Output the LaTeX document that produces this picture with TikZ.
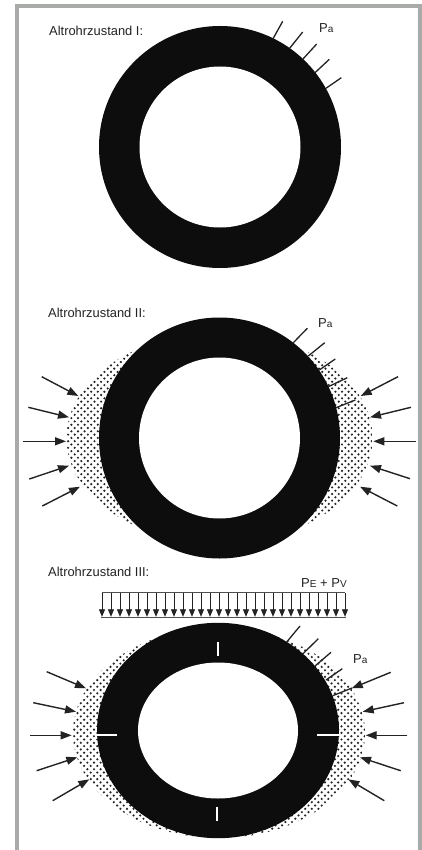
\documentclass[tikz,border=0pt]{standalone}
\usepackage{fontspec}
\setmainfont{Liberation Sans}
\usepackage{xcolor}
\usetikzlibrary{arrows.meta}
\definecolor{frame}{RGB}{168,171,168}
\definecolor{pipe}{RGB}{13,13,13}
\definecolor{ink}{RGB}{35,35,35}
\tikzset{
  border/.style={draw=frame, line width=4pt},
  pipering/.style={fill=pipe},
  bore/.style={fill=white},
  slit/.style={draw=white, line width=2pt},
  grain/.style={fill=ink},
  title/.style={anchor=base west, inner sep=0pt, text=ink, font=\fontsize{12.9}{15}\selectfont},
  pval/.style={anchor=base west, inner sep=0pt, text=ink, font=\fontsize{13}{15}\selectfont},
  pline/.style={draw=ink, line width=1.3pt},
  soil/.style={draw=ink, line width=1.4pt, -{Triangle[length=11pt,width=8pt]}},
  load/.style={draw=ink, line width=0.8pt, -{Triangle[length=7.5pt,width=6pt]}},
  loadedge/.style={draw=ink!80, line width=1pt}
}
\newcommand{\subsm}[1]{{\fontsize{10}{11}\selectfont #1}}
\begin{document}
\begin{tikzpicture}[x=1pt,y=-1pt]
  \useasboundingbox[fill=white] (0,0) rectangle (422,850);
  \draw[border] (17,850) -- (17,6) -- (420,6) -- (420,850);
  % stipple behind the rings
  \foreach \cx/\cy/\rx in {219.5/438/153, 219/733/146}{
    \begin{scope}
      \clip (\cx,\cy) circle [x radius=\rx, y radius=105];
      \foreach \row in {0,...,66}{
        \foreach \col in {0,...,48}{
          \fill[grain] ({\cx-158+\col*6.6+3.3*mod(\row,2)},{\cy-109+\row*3.3}) circle [radius=1.2];
        }
      }
    \end{scope}
  }
  % rings
  \coordinate (ringA) at (220,147);
  \coordinate (ringB) at (219.5,438);
  \coordinate (ringC) at (218,730.5);
  \fill[pipering] (ringA) circle [radius=121];
  \fill[bore] (ringA) circle [radius=80.5];
  \fill[pipering] (ringB) circle [radius=120.5];
  \fill[bore] (ringB) circle [radius=80.5];
  \fill[pipering] (ringC) circle [x radius=121, y radius=107.7];
  \fill[bore] (ringC) circle [x radius=80, y radius=68];
  % cracks
  \draw[slit] (217.7,641.7) -- (217.7,655.7);
  \draw[slit] (217.3,806.7) -- (217.3,821);
  \draw[slit] (97,735.3) -- (117,735.3);
  \draw[slit] (317.3,735.3) -- (339,735.3);
  % water pressure lines
  \foreach \xa/\ya/\xb/\yb in {282.7/21.3/272.7/39.3, 302.7/32/289.3/48.7, 316.7/44/302.7/59.3,
      329.3/59.3/315/72.7, 341.3/77.7/326/88.3,
      307.3/328.3/293.3/342.7, 324.7/342.7/308.3/356, 335.3/359/319.3/370,
      347.3/377.7/328.3/386.7, 355.3/400/336/407.7,
      300/626/286.7/642, 318.3/638.7/302.7/654, 331/652.3/315/666,
      342.3/668.7/326/680, 352/688/332.7/695.7}
    \draw[pline] (\xa,\ya) -- (\xb,\yb);
  % soil pressure arrows
  \foreach \xa/\ya/\xb/\yb in {41.7/376.7/78.3/396, 28.3/407.3/69/417.3, 23.3/441.3/66/441.3,
      29.3/479/69/465.7, 42.3/506/80/486.7,
      398/376.7/360.7/396, 411/407.3/370/417.3, 416/441.3/373.3/441.3,
      410/478.7/370/465.7, 397.3/506/360/486.7,
      46.7/671.7/86/688.3, 33.3/702.7/76/711.7, 30/735.3/71.7/735.3,
      36.7/770.7/77.3/757.3, 52.7/800.7/89.3/779.3,
      390.7/672.3/351.7/688.3, 404/702.7/362.7/711.7, 407.3/735.3/365.7/735.3,
      400.7/770.7/360/757.3, 384.3/800.7/348.3/779.3}
    \draw[soil] (\xa,\ya) -- (\xb,\yb);
  % traffic load
  \draw[loadedge] (102,592.7) -- (344.5,592.7);
  \draw[loadedge] (100.5,617.3) -- (346,617.3);
  \foreach \i in {0,...,27}
    \draw[load] ({102+\i*9},592.7) -- ({102+\i*9},616.8);
  % labels
  \node[title] (titleA) at (49,35.7) {Altrohrzustand I:};
  \node[title] (titleB) at (48,317.3) {Altrohrzustand II:};
  \node[title] (titleC) at (48,576.7) {Altrohrzustand III:};
  \node[pval] (paA) at (319,32.7) {P\subsm{a}};
  \node[pval] (paB) at (318,327) {P\subsm{a}};
  \node[pval] (paC) at (353,663.3) {P\subsm{a}};
  \node[pval] (peC) at (301,587.7) {P\subsm{E} + P\subsm{V}};
\end{tikzpicture}
\end{document}
